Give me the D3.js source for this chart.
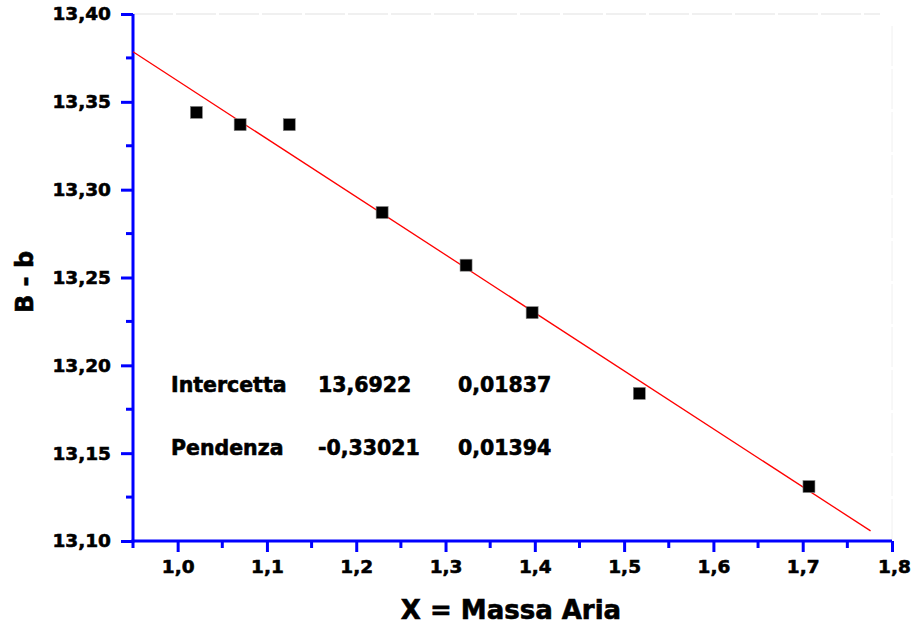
<!DOCTYPE html>
<html>
<head>
<meta charset="utf-8">
<script src="https://cdn.jsdelivr.net/npm/d3@7"></script>
<style>
  body { margin: 0; background: #fff; }
  svg { display: block; }
  text { font-family: "DejaVu Sans", sans-serif; font-weight: bold; fill: #000; stroke: #000; stroke-width: 0.6px; }
</style>
</head>
<body>
<svg id="chart" width="912" height="626"></svg>
<script>
// measured points (air mass vs B - b)
var massaAria = [1.021, 1.070, 1.125, 1.229, 1.323, 1.397, 1.517, 1.707];
var bMinusB = [13.344, 13.337, 13.337, 13.287, 13.257, 13.230, 13.184, 13.131];

// linear fit results
var fitNames = ["Intercetta", "Pendenza"];
var fitValues = ["13,6922", "-0,33021"];
var fitErrors = ["0,01837", "0,01394"];
var intercept = 13.6922, slope = -0.33021;
var fitRange = [0.95, 1.776];

var xTicks = [1.0, 1.1, 1.2, 1.3, 1.4, 1.5, 1.6, 1.7, 1.8];
var yTicks = [13.10, 13.15, 13.20, 13.25, 13.30, 13.35, 13.40];

var svg = d3.select("#chart");
var plotLeft = 133, plotRight = 892, plotTop = 14, plotBottom = 541;

var x = d3.scaleLinear().domain([0.95, 1.8]).range([plotLeft, plotRight]);
var y = d3.scaleLinear().domain([13.10, 13.40]).range([plotBottom, plotTop]);

var comma = function(d, n) { return d.toFixed(n).replace(".", ","); };

// faint frame on top and right
svg.append("line")
  .attr("x1", plotLeft).attr("x2", 880).attr("y1", plotTop).attr("y2", plotTop)
  .attr("stroke", "#ececec").attr("stroke-width", 1.5)
  .attr("stroke-dasharray", "40,3");
svg.append("line")
  .attr("x1", plotRight).attr("x2", plotRight).attr("y1", 26).attr("y2", plotBottom)
  .attr("stroke", "#f0f0f0").attr("stroke-width", 1)
  .attr("stroke-dasharray", "40,3");

// x axis
var xAxis = svg.append("g").attr("transform", "translate(0," + plotBottom + ")")
  .call(d3.axisBottom(x).tickValues(xTicks).tickSize(11).tickPadding(8)
    .tickFormat(function(d) { return comma(d, 1); }));
xAxis.selectAll(".tick").filter(function(d, i) { return i === xTicks.length - 1; })
  .select("text").attr("dx", 2);

var xMinor = d3.range(0, 9).map(function(i) { return 0.95 + i * 0.1; });
xAxis.selectAll(".minor").data(xMinor).enter().append("line")
  .attr("x1", function(d) { return x(d); }).attr("x2", function(d) { return x(d); })
  .attr("y1", 0).attr("y2", 7);

// y axis
var yAxis = svg.append("g").attr("transform", "translate(" + plotLeft + ",0)")
  .call(d3.axisLeft(y).tickValues(yTicks).tickSize(12).tickPadding(10)
    .tickFormat(function(d) { return comma(d, 2); }));
var yMinor = d3.range(0, 6).map(function(i) { return 13.125 + i * 0.05; });
yAxis.selectAll(".minor").data(yMinor).enter().append("line")
  .attr("y1", function(d) { return y(d); }).attr("y2", function(d) { return y(d); })
  .attr("x1", 0).attr("x2", -7);

xAxis.select(".domain").attr("d", "M" + (plotLeft - 1.5) + ",0H" + plotRight);
yAxis.select(".domain").attr("d", "M0," + (plotBottom + 1.5) + "V" + plotTop);
[xAxis, yAxis].forEach(function(g) {
  g.attr("font-size", 18).attr("font-family", "DejaVu Sans");
  g.select(".domain").attr("stroke", "#0000ff").attr("stroke-width", 3);
  g.selectAll("line").attr("stroke", "#0000ff").attr("stroke-width", 3);
  g.selectAll("text").style("font-size", "18.5px").attr("fill", "#000");
});

// fit line
svg.append("line")
  .attr("x1", x(fitRange[0])).attr("y1", y(intercept + slope * fitRange[0]))
  .attr("x2", x(fitRange[1])).attr("y2", y(intercept + slope * fitRange[1]))
  .attr("stroke", "#ff0000").attr("stroke-width", 1.3);

// points
svg.append("g").selectAll("rect").data(massaAria).enter().append("rect")
  .attr("x", function(d) { return x(d) - 6; })
  .attr("y", function(d, i) { return y(bMinusB[i]) - 6; })
  .attr("width", 12).attr("height", 12)
  .attr("fill", "#000").attr("stroke", "#888").attr("stroke-width", 0.6);

// fit table
var rowY = [392, 455];
var table = svg.append("g").style("font-size", "20.5px");
fitNames.forEach(function(n, i) {
  table.append("text").attr("x", 171).attr("y", rowY[i]).text(n);
  table.append("text").attr("x", 318).attr("y", rowY[i]).text(fitValues[i]);
  table.append("text").attr("x", 458).attr("y", rowY[i]).text(fitErrors[i]);
});

// axis titles
svg.append("text").attr("x", 511).attr("y", 619).attr("text-anchor", "middle")
  .style("font-size", "26px").text("X = Massa Aria");
svg.append("text").attr("transform", "translate(33,282) rotate(-90)")
  .attr("text-anchor", "middle").style("font-size", "24px").text("B - b");
</script>
</body>
</html>
